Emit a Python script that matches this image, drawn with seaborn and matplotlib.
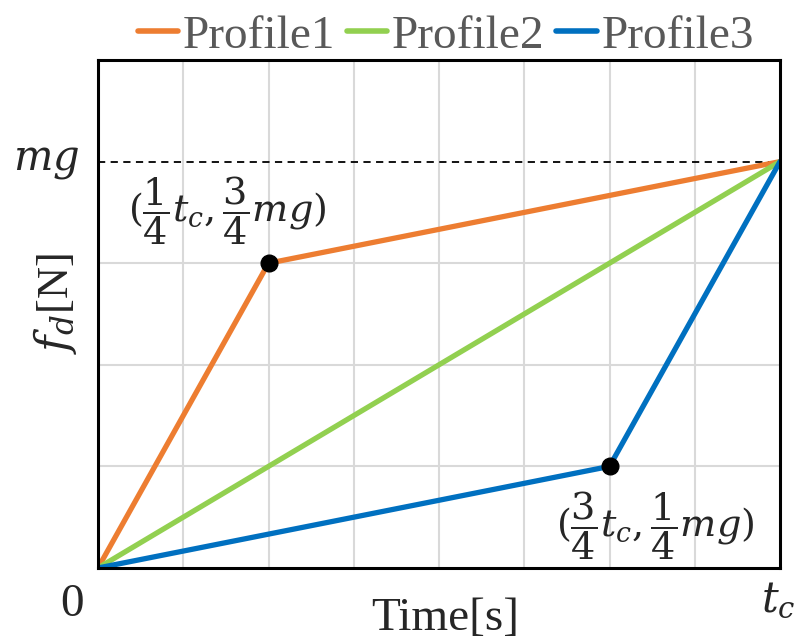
import matplotlib
matplotlib.use("Agg")
import matplotlib.pyplot as plt
import seaborn as sns
import pandas as pd

# Force-profile vertices (time in units of t_c, force in units of mg)
time_p1 = [0.0, 0.25, 1.0]
force_p1 = [0.0, 0.75, 1.0]
time_p2 = [0.0, 1.0]
force_p2 = [0.0, 1.0]
time_p3 = [0.0, 0.75, 1.0]
force_p3 = [0.0, 0.25, 1.0]
profile_names = ["Profile1", "Profile2", "Profile3"]
profile_colors = ["#ED7D31", "#92D050", "#0070C0"]

# Marked break points and their labels
knee_t = [0.25, 0.75]
knee_f = [0.75, 0.25]
knee_labels = [r"$(\dfrac{1}{4}t_c,\dfrac{3}{4}mg)$", r"$(\dfrac{3}{4}t_c,\dfrac{1}{4}mg)$"]

sns.set_theme(style="white")
plt.rcParams["font.family"] = ["Liberation Serif", "DejaVu Serif"]
plt.rcParams["mathtext.fontset"] = "dejavuserif"

df = pd.concat([
    pd.DataFrame({"t": time_p1, "f": force_p1, "profile": profile_names[0]}),
    pd.DataFrame({"t": time_p2, "f": force_p2, "profile": profile_names[1]}),
    pd.DataFrame({"t": time_p3, "f": force_p3, "profile": profile_names[2]}),
], ignore_index=True)

fig = plt.figure(figsize=(8.01, 6.4), dpi=100)
ax = fig.add_axes([98 / 801, 1 - 568 / 640, (780 - 98) / 801, (568 - 60) / 640])

# light grid
for gx in [i / 8 for i in range(1, 8)]:
    ax.axvline(gx, color="#d9d9d9", lw=1.5, zorder=0)
for gy in [0.25, 0.5, 0.75]:
    ax.axhline(gy, color="#d9d9d9", lw=1.5, zorder=0)
# reference level mg
ax.axhline(1.0, color="black", lw=1.3, ls=(0, (4, 3)), zorder=1)

sns.lineplot(data=df, x="t", y="f", hue="profile", palette=profile_colors,
             hue_order=profile_names, lw=3.8, ax=ax, legend=True,
             solid_capstyle="round", zorder=3, sort=False, estimator=None)

ax.plot(knee_t, knee_f, "o", color="black", ms=12, zorder=4)

ax.set_xlim(0, 1)
ax.set_ylim(0, 1.25)
ax.set_xticks([])
ax.set_yticks([])
ax.set_xlabel("")
ax.set_ylabel("")
for s in ax.spines.values():
    s.set_color("black")
    s.set_linewidth(2.2)
    s.set_zorder(5)

# annotations at the break points
ax.text(0.19, 0.88, knee_labels[0], fontsize=27.5, ha="center", va="center")
ax.text(0.817, 0.105, knee_labels[1], fontsize=27.5, ha="center", va="center")

# axis labels drawn as text
ax.text(-0.038, -0.09, "0", fontsize=34, ha="center", va="center", clip_on=False)
ax.text(0.997, -0.08, r"$t_c$", fontsize=30, ha="center", va="center", clip_on=False)
ax.text(-0.076, 1.0, r"$mg$", fontsize=30, ha="center", va="center", clip_on=False)
ax.text(0.509, -0.153, "Time[s]", fontsize=34, ha="center", va="baseline", clip_on=False)
ax.text(-0.063, 0.65, r"$f_d$[N]", fontsize=32, ha="center", va="center",
        rotation=90, clip_on=False)

leg = ax.legend(loc="lower center", bbox_to_anchor=(0.51, 0.967), ncol=3,
                frameon=False, fontsize=34, handlelength=0.85, handletextpad=0.1,
                columnspacing=0.25, borderaxespad=0.0)
for t in leg.get_texts():
    t.set_color("#595959")
for h in leg.get_lines():
    h.set_linewidth(4)
    h.set_solid_capstyle("round")

fig.savefig("out.png", dpi=100)
